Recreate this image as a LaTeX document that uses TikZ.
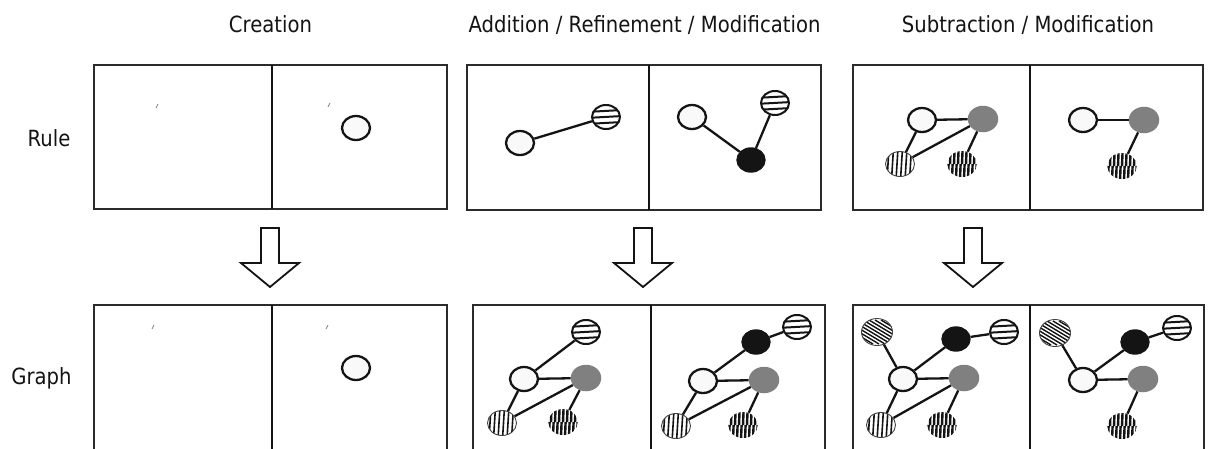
\documentclass[tikz,border=0pt]{standalone}
\usepackage{fontspec}
\setmainfont{DejaVu Sans}[FakeStretch=0.88]
\usetikzlibrary{shapes.geometric}

\definecolor{frame}{HTML}{2B2B2B}
\definecolor{paper}{HTML}{F8F9F8}
\definecolor{midgray}{HTML}{808080}
\definecolor{ink}{HTML}{141414}

\tikzset{
  title/.style={anchor=base,font=\fontsize{22.3}{26}\selectfont,text=ink},
  rowlabel/.style={anchor=base,font=\fontsize{22.3}{26}\selectfont,text=ink},
  panel/.style={draw=frame,line width=2.4pt},
  divider/.style={draw=ink,line width=2.4pt},
  blockarrow/.style={draw=ink,line width=1.8pt,fill=white,line join=miter},
  tick/.style={draw=gray,line width=0.8pt},
  elem/.style={ellipse,inner sep=0pt,minimum width=28pt,minimum height=24pt},
  wnode/.style={elem,draw=ink,line width=2.3pt,fill=paper},
  gnode/.style={elem,fill=midgray,minimum width=30.5pt,minimum height=26.5pt},
  bnode/.style={elem,draw=ink,line width=1.4pt,fill=ink},
  hnode/.style={elem,draw=ink,line width=2pt,fill=white,
    path picture={
      \foreach \d in {-6,0,6}
        \draw[ink,line width=2pt]
          ([xshift=-20pt,yshift=\d*1pt-1pt]path picture bounding box.center)
          -- ([xshift=20pt,yshift=\d*1pt+1.2pt]path picture bounding box.center);
    }},
  vnode/.style={elem,draw=ink!80,line width=0.9pt,fill=white,
    minimum width=29pt,minimum height=25pt,
    path picture={
      \foreach \d in {-12,-7.5,...,13}
        \draw[ink,line width=1.6pt]
          ([xshift=\d*1pt-1pt,yshift=-16pt]path picture bounding box.center)
          -- ++(2pt,32pt);
    }},
  dnode/.style={elem,fill=white,minimum width=29.5pt,minimum height=26pt,
    path picture={
      \foreach \d in {-16,-12,...,16}{
        \draw[ink,line width=2.4pt]
          ([xshift=\d*1pt,yshift=0pt]path picture bounding box.center)
          -- ++(0.6pt,15pt);
        \draw[ink,line width=2.4pt]
          ([xshift=\d*1pt+2pt,yshift=-15pt]path picture bounding box.center)
          -- ++(0.6pt,15pt);
      }
    }},
  snode/.style={elem,draw=ink!80,line width=0.9pt,fill=white,
    minimum width=31pt,minimum height=27pt,
    path picture={
      \foreach \d in {-42,-36,...,42}
        \draw[ink,line width=1.4pt]
          ([xshift=\d*1pt-20pt,yshift=12pt]path picture bounding box.center)
          -- ++(40pt,-24pt);
    }},
  link/.style={draw=ink,line width=2.3pt},
}

\begin{document}
\begin{tikzpicture}[x=1pt,y=-1pt]
\useasboundingbox (0,0) rectangle (1209,448);
\fill[white] (0,0) rectangle (1209,448);

% column titles and row labels
\node[title] (tcre) at (270.5,32) {Creation};
\node[title] (tadd) at (644.5,32) {Addition / Refinement / Modification};
\node[title] (tsub) at (1028,32) {Subtraction / Modification};
\node[rowlabel] (lrule) at (49,146) {Rule};
\node[rowlabel] (lgraph) at (41.5,384) {Graph};

% rule panels (left and right hand sides)
\draw[panel] (94,65) rectangle (447,209);
\draw[divider] (272,65) -- (272,209);
\draw[panel] (467,65) rectangle (821,210);
\draw[divider] (649,65) -- (649,210);
\draw[panel] (853,65) rectangle (1203,210);
\draw[divider] (1030,65) -- (1030,210);

% graph panels, running off the lower edge
\draw[panel] (94,452) -- (94,305) -- (447,305) -- (447,452);
\draw[divider] (272,305) -- (272,452);
\draw[panel] (473,452) -- (473,305) -- (825,305) -- (825,452);
\draw[divider] (651,305) -- (651,452);
\draw[panel] (853,452) -- (853,305) -- (1204,305) -- (1204,452);
\draw[divider] (1030,305) -- (1030,452);

% hollow arrows from rule to graph
\foreach \cx in {270,643,973}
  \draw[blockarrow] (\cx-9,228) -- (\cx+9,228) -- (\cx+9,263) -- (\cx+29,263)
    -- (\cx,287) -- (\cx-29,263) -- (\cx-9,263) -- cycle;

% small stray marks
\draw[tick] (156,108) -- (158,104);
\draw[tick] (328,107) -- (330,103);
\draw[tick] (152,329) -- (154,325);
\draw[tick] (326,329) -- (328,325);

% --- Creation ---
\node[wnode] (cr1) at (356,128) {};
\node[wnode] (cg1) at (356,368) {};

% --- Addition: rule ---
\node[wnode] (al_w) at (520,143) {};
\node[hnode] (al_h) at (606,117) {};
\draw[link] (al_w) -- (al_h);

\node[wnode] (ar_w) at (692,117) {};
\node[hnode] (ar_h) at (775,103) {};
\node[bnode] (ar_b) at (751,160) {};
\draw[link] (ar_w) -- (ar_b);
\draw[link] (ar_b) -- (ar_h);

% --- Addition: graph ---
\node[hnode] (gl_h) at (586,332) {};
\node[wnode] (gl_w) at (524,379) {};
\node[gnode] (gl_g) at (586,378) {};
\node[vnode] (gl_v) at (502,423) {};
\node[dnode] (gl_d) at (563,422) {};
\draw[link] (gl_w) -- (gl_h);
\draw[link] (gl_w) -- (gl_g);
\draw[link] (gl_w) -- (gl_v);
\draw[link] (gl_g) -- (gl_v);
\draw[link] (gl_g) -- (gl_d);

\node[hnode] (gr_h) at (797,327) {};
\node[bnode] (gr_b) at (756,342) {};
\node[wnode] (gr_w) at (703,381) {};
\node[gnode] (gr_g) at (764,380) {};
\node[vnode] (gr_v) at (676,426) {};
\node[dnode] (gr_d) at (743,425) {};
\draw[link] (gr_b) -- (gr_h);
\draw[link] (gr_w) -- (gr_b);
\draw[link] (gr_w) -- (gr_g);
\draw[link] (gr_w) -- (gr_v);
\draw[link] (gr_g) -- (gr_v);
\draw[link] (gr_g) -- (gr_d);

% --- Subtraction: rule ---
\node[wnode] (sl_w) at (922,120) {};
\node[gnode] (sl_g) at (983,119) {};
\node[vnode] (sl_v) at (900,164) {};
\node[dnode] (sl_d) at (962,164) {};
\draw[link] (sl_w) -- (sl_g);
\draw[link] (sl_w) -- (sl_v);
\draw[link] (sl_g) -- (sl_v);
\draw[link] (sl_g) -- (sl_d);

\node[wnode] (sr_w) at (1083,120) {};
\node[gnode] (sr_g) at (1144,120) {};
\node[dnode] (sr_d) at (1122,166) {};
\draw[link] (sr_w) -- (sr_g);
\draw[link] (sr_g) -- (sr_d);

% --- Subtraction: graph ---
\node[snode] (hl_s) at (877,332) {};
\node[bnode] (hl_b) at (956,339) {};
\node[hnode] (hl_h) at (1004,332) {};
\node[wnode] (hl_w) at (903,379) {};
\node[gnode] (hl_g) at (964,378) {};
\node[vnode] (hl_v) at (881,425) {};
\node[dnode] (hl_d) at (942,425) {};
\draw[link] (hl_s) -- (hl_w);
\draw[link] (hl_w) -- (hl_b);
\draw[link] (hl_b) -- (hl_h);
\draw[link] (hl_w) -- (hl_g);
\draw[link] (hl_w) -- (hl_v);
\draw[link] (hl_g) -- (hl_v);
\draw[link] (hl_g) -- (hl_d);

\node[snode] (hr_s) at (1055,333) {};
\node[bnode] (hr_b) at (1135,342) {};
\node[hnode] (hr_h) at (1177,328) {};
\node[wnode] (hr_w) at (1083,380) {};
\node[gnode] (hr_g) at (1143,379) {};
\node[dnode] (hr_d) at (1122,426) {};
\draw[link] (hr_s) -- (hr_w);
\draw[link] (hr_w) -- (hr_b);
\draw[link] (hr_b) -- (hr_h);
\draw[link] (hr_w) -- (hr_g);
\draw[link] (hr_g) -- (hr_d);
\end{tikzpicture}
\end{document}
